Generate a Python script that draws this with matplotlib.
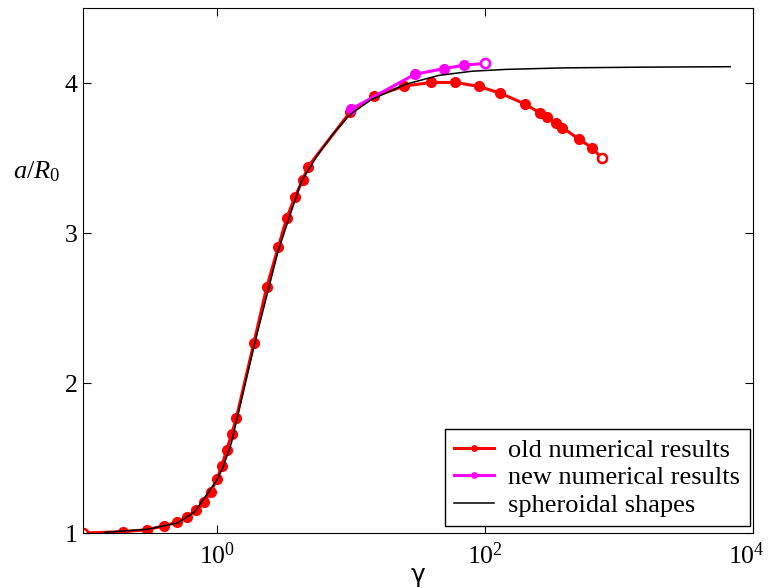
import numpy as np
import matplotlib
matplotlib.use('Agg')
import matplotlib.pyplot as plt
import matplotlib.transforms as mtransforms

plt.rcParams['font.family'] = 'Liberation Serif'
plt.rcParams['mathtext.fontset'] = 'custom'
plt.rcParams['mathtext.rm'] = 'Liberation Serif'
plt.rcParams['mathtext.it'] = 'Liberation Serif:italic'

# old numerical results (red)
old_gamma = np.array([0.1, 0.2, 0.3, 0.4, 0.5, 0.6, 0.7, 0.8, 0.9, 1.0, 1.09, 1.18, 1.29, 1.4,
                      1.89, 2.36, 2.87, 3.33, 3.84, 4.36, 4.8,
                      9.9, 15, 25, 40, 60, 90, 130, 200, 259, 290, 343, 380, 507, 630, 750])
old_ratio = np.array([1.0, 1.009, 1.022, 1.047, 1.071, 1.108, 1.153, 1.206, 1.275, 1.359, 1.45, 1.552, 1.659, 1.77,
                      2.269, 2.643, 2.905, 3.104, 3.244, 3.353, 3.444,
                      3.808, 3.912, 3.981, 4.005, 4.005, 3.979, 3.934, 3.861, 3.801, 3.774, 3.737, 3.703, 3.626, 3.57, 3.5])

# new numerical results (magenta)
new_gamma = np.array([10, 30, 50, 70, 100])
new_ratio = np.array([3.826, 4.059, 4.098, 4.12, 4.132])

# spheroidal shapes (black)
sph_gamma = np.array([0.146, 0.305, 0.51, 0.68, 1.0, 1.11, 1.28, 1.92, 2.87, 3.82, 4.29, 5.7, 7.5,
                      9.9, 14.3, 25.5, 45.3, 80.5, 143, 380, 1510, 6800])
sph_ratio = np.array([1.005, 1.025, 1.068, 1.14, 1.353, 1.437, 1.597, 2.269, 2.883, 3.216, 3.349, 3.526, 3.67,
                      3.792, 3.892, 3.992, 4.052, 4.08, 4.092, 4.102, 4.107, 4.11])

fig = plt.figure(figsize=(7.68, 5.88), dpi=100)
ax = fig.add_axes([0.108, 0.0935, 0.872, 0.8925])

ax.plot(old_gamma, old_ratio, '-o', color='red', lw=2.2, ms=7, mec='red', label='old numerical results')
ax.plot(new_gamma, new_ratio, '-o', color='magenta', lw=2.2, ms=7, mec='magenta', label='new numerical results')
ax.plot(sph_gamma, sph_ratio, '-', color='black', lw=1.1, label='spheroidal shapes')
# open end markers
ax.plot(old_gamma[[0, -1]], old_ratio[[0, -1]], 'o', ls='none', ms=6.5, mfc='white', mec='red', mew=1.8)
ax.plot(new_gamma[[-1]], new_ratio[[-1]], 'o', ls='none', ms=6.5, mfc='white', mec='magenta', mew=1.8)

ax.set_xscale('log')
ax.set_xlim(0.1, 1e4)
ax.set_ylim(1, 4.5)
ax.set_xticks([1, 100, 1e4])
ax.set_xticklabels(['$10^{0}$', '$10^{2}$', '$10^{4}$'])
ax.xaxis.set_minor_locator(matplotlib.ticker.NullLocator())
ax.set_yticks([1, 2, 3, 4])
ax.tick_params(direction='in', length=6, top=True, right=True, labelsize=18.5)
ax.tick_params(axis='y', pad=4)
ax.tick_params(axis='x', pad=7)
# keep the last x label inside the figure
last = ax.get_xticklabels()[-1]
last.set_transform(last.get_transform() + mtransforms.ScaledTranslation(-6 / 100, 0, fig.dpi_scale_trans))

ax.set_xlabel('γ', fontsize=18, family='DejaVu Sans')
ax.xaxis.set_label_coords(0.5, -0.058)
ax.set_ylabel(r'$a/R_0$', fontsize=19, rotation=0, va='center')
ax.yaxis.set_label_coords(-0.069, 0.688)

leg = ax.legend(loc='lower right', bbox_to_anchor=(0.9955, 0.0133), fontsize=19,
                frameon=True, fancybox=False, edgecolor='black', framealpha=1,
                markerscale=0.55, handlelength=1.5, handletextpad=0.55,
                borderpad=0.35, labelspacing=0.15, borderaxespad=0)
leg.get_frame().set_linewidth(1.0)

plt.savefig('out.png', dpi=100)
